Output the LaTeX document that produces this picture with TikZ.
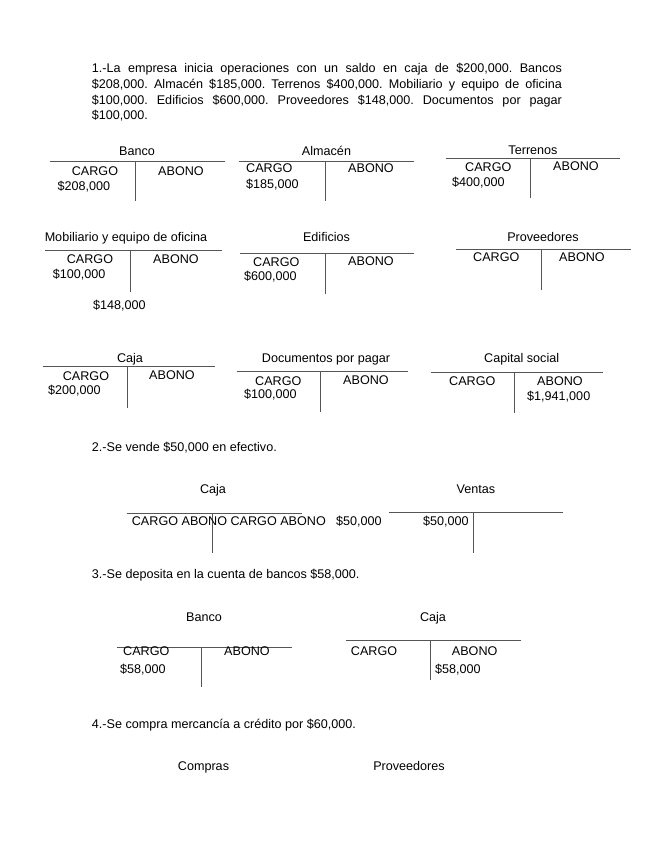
\documentclass[tikz,border=0pt]{standalone}
\usepackage{fontspec}
\setmainfont{Liberation Sans}
\usepackage{xcolor}
\usepackage{tikz}
\usetikzlibrary{positioning}
\definecolor{tline}{RGB}{85,85,85}
\frenchspacing

\begin{document}
\begin{tikzpicture}[
    x=1pt, y=-1pt,
    lbl/.style={font=\fontsize{12.6}{15.7}\selectfont, inner sep=0pt, anchor=base west},
    ttl/.style={lbl, anchor=base},
    rule/.style={draw=tline, line width=0.9pt}
]
\fill[white] (0,0) rectangle (655,848);
\useasboundingbox (0,0) rectangle (655,848);

% enunciado 1
\node[lbl] (par1) at (91.7,72.7)  {\makebox[470pt][s]{1.-La empresa inicia operaciones con un saldo en caja de \$200,000. Bancos}};
\node[lbl] (par2) at (91.7,88.4)  {\makebox[470pt][s]{\$208,000. Almacén \$185,000. Terrenos \$400,000. Mobiliario y equipo de oficina}};
\node[lbl] (par3) at (91.7,104.1) {\makebox[470pt][s]{\$100,000. Edificios \$600,000. Proveedores \$148,000. Documentos por pagar}};
\node[lbl] (par4) at (91.7,119.8) {\$100,000.};

% fila 1
\node[ttl] (banco)    at (137,155)   {Banco};
\draw[rule] (50,161.7) -- (225,161.7) (135.7,161.7) -- (135.7,201);
\node[lbl] (bancoC)   at (71.7,175.5) {CARGO};
\node[lbl] (bancoA)   at (158,175.5)  {ABONO};
\node[lbl] (bancoV)   at (57.3,190)   {\$208,000};

\node[ttl] (almacen)  at (326.5,155) {Almacén};
\draw[rule] (239,161) -- (414,161) (325,161) -- (325,201);
\node[lbl] (almacenC) at (246,172.3) {CARGO};
\node[lbl] (almacenA) at (348,172.3) {ABONO};
\node[lbl] (almacenV) at (246,188)   {\$185,000};

\node[ttl] (terrenos)  at (533,154)   {Terrenos};
\draw[rule] (446,158.3) -- (620,158.3) (530.7,158.3) -- (530.7,198);
\node[lbl] (terrenosC) at (465,171)   {CARGO};
\node[lbl] (terrenosA) at (553,170)   {ABONO};
\node[lbl] (terrenosV) at (452,186.7) {\$400,000};

% fila 2
\node[ttl] (mobil)  at (126,241.5) {Mobiliario y equipo de oficina};
\draw[rule] (45,250.7) -- (222,250.7) (130.7,250.7) -- (130.7,292);
\node[lbl] (mobilC) at (66.7,263.3) {CARGO};
\node[lbl] (mobilA) at (153,263)    {ABONO};
\node[lbl] (mobilV) at (52.7,278.3) {\$100,000};
\node[lbl] (suelto) at (93,309)     {\$148,000};

\node[ttl] (edif)  at (326.5,241.5) {Edificios};
\draw[rule] (240,253.3) -- (414,253.3) (325,253.3) -- (325,294);
\node[lbl] (edifC) at (253,266.7) {CARGO};
\node[lbl] (edifA) at (348,265)   {ABONO};
\node[lbl] (edifV) at (244,280)   {\$600,000};

\node[ttl] (prov)  at (543,241.5) {Proveedores};
\draw[rule] (456,249) -- (630.7,249) (541,249) -- (541,290);
\node[lbl] (provC) at (473,261.7) {CARGO};
\node[lbl] (provA) at (559,261.7) {ABONO};

% fila 3
\node[ttl] (caja)  at (130,362)  {Caja};
\draw[rule] (42.7,366.7) -- (215,366.7) (127.3,366.7) -- (127.3,408);
\node[lbl] (cajaC) at (62.7,380) {CARGO};
\node[lbl] (cajaA) at (149,379)  {ABONO};
\node[lbl] (cajaV) at (48,394)   {\$200,000};

\node[ttl] (docs)  at (326,362) {Documentos por pagar};
\draw[rule] (236.7,371) -- (408,371) (320,371) -- (320,412);
\node[lbl] (docsC) at (255,385) {CARGO};
\node[lbl] (docsA) at (343,384) {ABONO};
\node[lbl] (docsV) at (244,398) {\$100,000};

\node[ttl] (capital)  at (521.7,362) {Capital social};
\draw[rule] (430.7,372.3) -- (602.7,372.3) (514,372.3) -- (514,413);
\node[lbl] (capitalC) at (449,385.7) {CARGO};
\node[lbl] (capitalA) at (537,385.7) {ABONO};
\node[lbl] (capitalV) at (527,400)   {\$1,941,000};

% enunciado 2
\node[lbl] (op2) at (91.7,451.7) {2.-Se vende \$50,000 en efectivo.};
\node[ttl] (caja2)   at (213,493) {Caja};
\node[ttl] (ventas)  at (476,493) {Ventas};
\draw[rule] (126.7,513.3) -- (301.7,513.3) (212.3,513.3) -- (212.3,553);
\node[lbl] (caja2C)  at (131.7,525) {CARGO ABONO CARGO ABONO};
\node[lbl] (caja2V)  at (336,525)   {\$50,000};
\draw[rule] (389,512.3) -- (563,512.3) (473.3,512.3) -- (473.3,553);
\node[lbl] (ventasV) at (423,525)   {\$50,000};

% enunciado 3
\node[lbl] (op3) at (91.7,578.3) {3.-Se deposita en la cuenta de bancos \$58,000.};
\node[ttl] (banco3) at (204,621.7) {Banco};
\node[ttl] (caja3)  at (433,621.7) {Caja};
\draw[rule] (117,647.3) -- (291.7,647.3) (201.7,647.3) -- (201.7,687);
\node[lbl] (banco3C) at (123,655)   {CARGO};
\node[lbl] (banco3A) at (224,655)   {ABONO};
\node[lbl] (banco3V) at (120,673.3) {\$58,000};
\draw[rule] (346,640) -- (520.7,640) (430.7,640) -- (430.7,680);
\node[lbl] (caja3C) at (350.7,655) {CARGO};
\node[lbl] (caja3A) at (451.7,655) {ABONO};
\node[lbl] (caja3V) at (435,673)   {\$58,000};

% enunciado 4
\node[lbl] (op4) at (91.7,728.3) {4.-Se compra mercancía a crédito por \$60,000.};
\node[ttl] (compras) at (203.5,770.5) {Compras};
\node[ttl] (prov4)   at (409,770.5)   {Proveedores};
\end{tikzpicture}
\end{document}
